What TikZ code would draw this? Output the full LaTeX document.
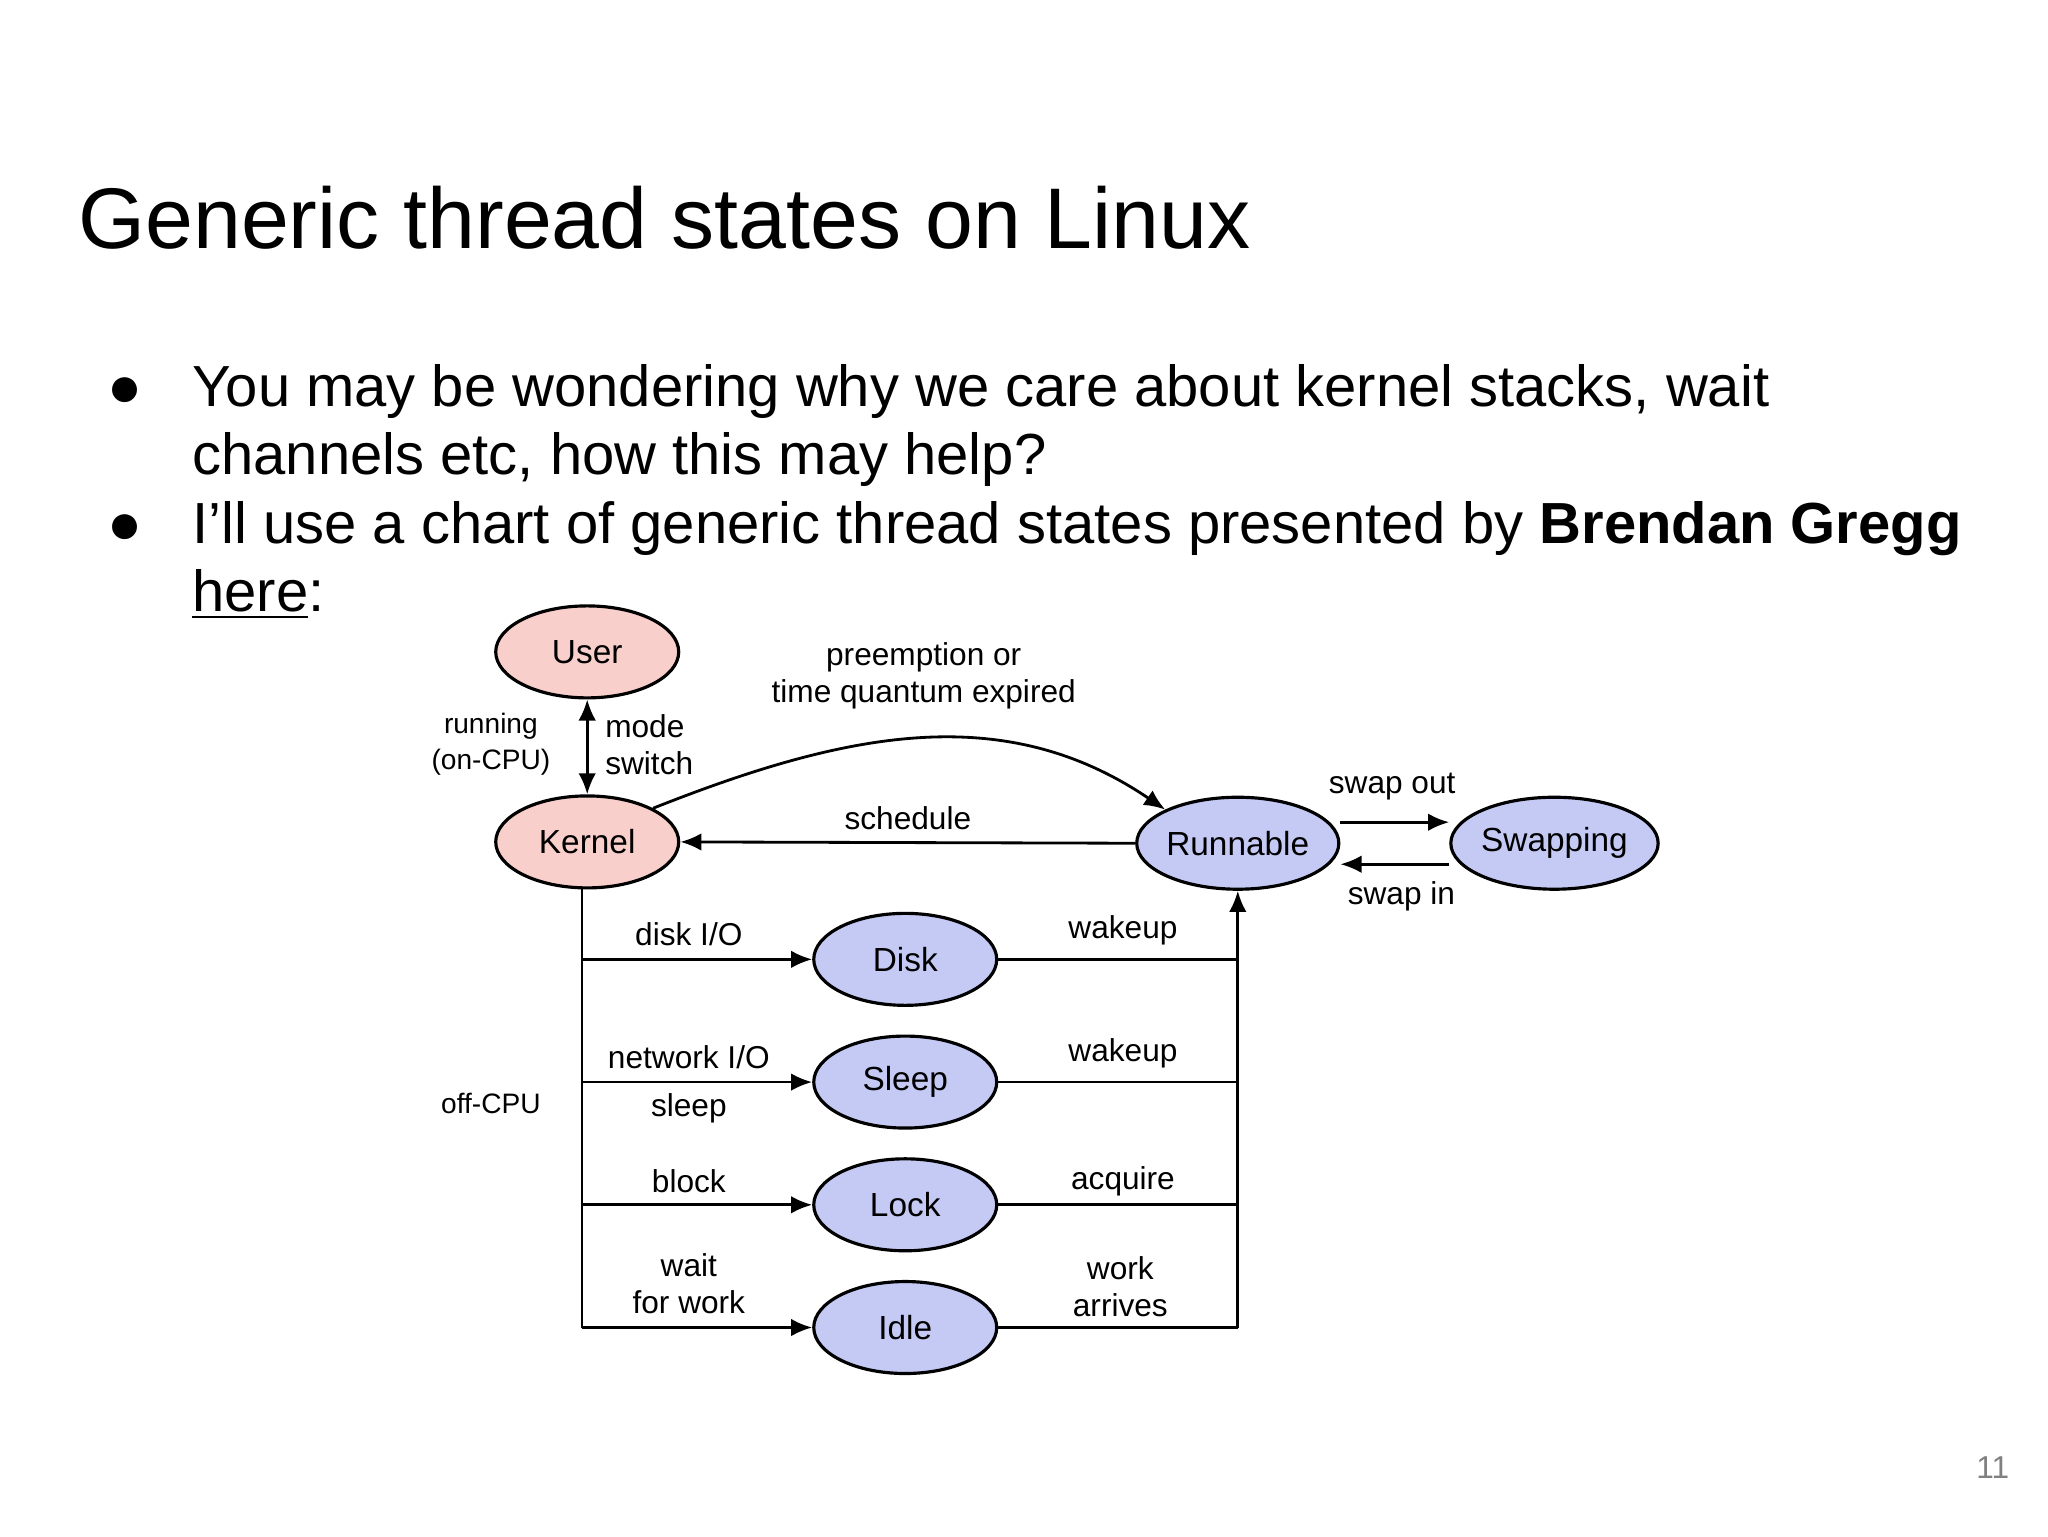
\documentclass[tikz,border=0pt]{standalone}
\usepackage{fontspec}
\setmainfont{Liberation Sans}
\usetikzlibrary{shapes.geometric,arrows.meta}
\definecolor{pinkf}{HTML}{F9CFCC}
\definecolor{bluef}{HTML}{C5CAF5}
\begin{document}
\begin{tikzpicture}[x=0.013196cm,y=-0.013196cm,
  st/.style={ellipse,draw,line width=0.9pt,minimum width=1.83cm,minimum height=0.92cm,inner sep=0pt,font=\fontsize{9.5pt}{11pt}\selectfont},
  ps/.style={st,fill=pinkf},
  bs/.style={st,fill=bluef},
  lbl/.style={font=\fontsize{9pt}{10.5pt}\selectfont,align=center},
  sl/.style={font=\fontsize{8pt}{10pt}\selectfont,align=center},
  ar/.style={-{Latex[length=6pt,width=5pt]},line width=0.8pt}]
\useasboundingbox (0,0) rectangle (1552,1164);
\fill[white] (0,0) rectangle (1552,1164);
\node[anchor=west,font=\fontsize{24.5pt}{30pt}\selectfont] (title) at (50,165) {Generic thread states on Linux};
\node[anchor=north west,align=left,font=\fontsize{16.5pt}{19.5pt}\selectfont] (body) at (72,262)
 {\begin{tabular}{@{}p{0.85cm}@{}p{18cm}@{}}
 ● & You may be wondering why we care about kernel stacks, wait\\
   & channels etc, how this may help?\\
 ● & I’ll use a chart of generic thread states presented by \textbf{Brendan Gregg}\\
   & \underline{here}:
 \end{tabular}};
\node[anchor=east,font=\fontsize{9pt}{11pt}\selectfont,text=gray] (pg) at (1532,1112) {11};
% states
\node[ps] (user) at (445,494) {User};
\node[ps] (kernel) at (445,638) {Kernel};
\node[bs] (run) at (938,639) {Runnable};
\node[bs] (swap) at (1178,639) {Swapping};
\node[bs] (disk) at (686,727) {Disk};
\node[bs] (sleep) at (686,820) {Sleep};
\node[bs] (lock) at (686,913) {Lock};
\node[bs] (idle) at (686,1006) {Idle};
% edges
\draw[{Latex[length=6pt,width=5pt]}-{Latex[length=6pt,width=5pt]},line width=0.8pt] (user) -- (kernel);
\draw[ar] (kernel.north east) .. controls (640,555) and (760,530) .. (run.north west);
\draw[ar] (run.west) -- (kernel.east);
\draw[ar] ([yshift=0.21cm]run.east) -- ([yshift=0.21cm]swap.west);
\draw[ar] ([yshift=-0.21cm]swap.west) -- ([yshift=-0.21cm]run.east);
\coordinate (ktop) at (441,673);
\coordinate (kbot) at (441,1006);
\draw[line width=0.8pt] (kernel.south -| ktop) -- (kbot);
\foreach \n in {disk,sleep,lock}{\draw[ar] (ktop |- \n.west) -- (\n.west);}
\draw[ar] (kbot) -- (idle.west);
\coordinate (rbot) at (938,1006);
\draw[line width=0.8pt] (idle.east) -- (rbot);
\draw[ar] (rbot) -- (run.south);
\foreach \n in {disk,sleep,lock}{\draw[line width=0.8pt] (\n.east) -- (rbot |- \n.east);}
% labels
\node[sl] (l1) at (372,564) {running\\(on-CPU)};
\node[lbl,align=left] (l2) at (492,564) {mode\\switch};
\node[lbl] (l3) at (700,512) {preemption or\\time quantum expired};
\node[lbl] (l4) at (688,620) {schedule};
\node[lbl] (l5) at (1055,596) {swap out};
\node[lbl] (l6) at (1062,679) {swap in};
\node[lbl] (l7) at (522,708) {disk I/O};
\node[lbl] (l8) at (522,801) {network I/O};
\node[lbl] (l9) at (522,840) {sleep};
\node[lbl] (l10) at (522,895) {block};
\node[lbl] (l11) at (522,973) {wait\\for work};
\node[lbl] (l12) at (851,705) {wakeup};
\node[lbl] (l13) at (851,798) {wakeup};
\node[lbl] (l14) at (851,895) {acquire};
\node[lbl] (l15) at (849,975) {work\\arrives};
\node[sl] (l16) at (372,836) {off-CPU};
\end{tikzpicture}
\end{document}
